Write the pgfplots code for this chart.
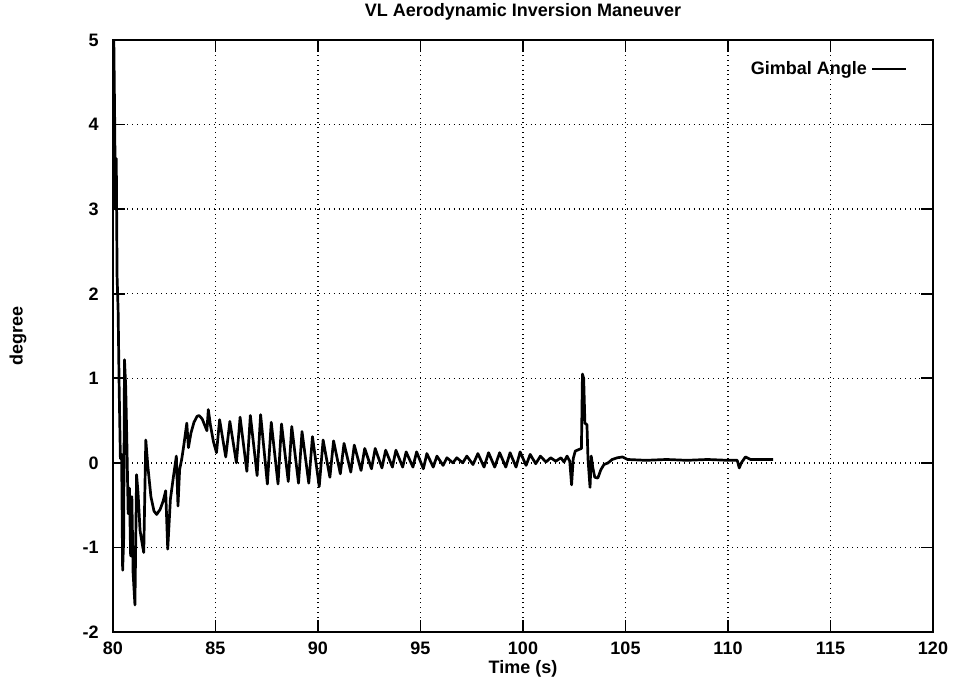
\documentclass[border=0pt]{standalone}
\usepackage{fontspec}
\setmainfont{Liberation Sans}
\usepackage{pgfplots}
\pgfplotsset{compat=1.18}
\begin{document}
\fontsize{9}{11}\selectfont\bfseries
\begin{tikzpicture}
\useasboundingbox (0,0) rectangle (476.5pt,340.5pt);
\begin{axis}[
  at={(56.5pt,24.5pt)}, anchor=south west,
  scale only axis, width=410pt, height=296pt,
  xmin=80, xmax=120, ymin=-2, ymax=5,
  xtick={80,85,...,120}, ytick={-2,-1,...,5},
  /pgf/number format/assume math mode=true,
  grid=major,
  major grid style={dotted, black, line width=0.7pt},
  tick align=inside, major tick length=6pt,
  tick style={black, line width=0.9pt},
  axis line style={line width=1.3pt},
  every axis title shift=0pt,
  xticklabel style={yshift=-2pt, font=\bfseries},
  yticklabel style={xshift=-4pt, font=\bfseries},
  title={VL Aerodynamic Inversion Maneuver},
  title style={at={(axis description cs:0.5,1.0473)}, anchor=center, font=\bfseries},
  xlabel={Time (s)},
  xlabel style={at={(axis description cs:0.5,-0.0625)}, anchor=center, font=\bfseries},
  ylabel={degree},
  ylabel style={at={(axis description cs:-0.1159,0.5)}, anchor=center, font=\bfseries},
  legend style={at={(axis description cs:0.972,0.975)}, anchor=north east,
    draw=none, fill=none, inner sep=1pt, font=\bfseries},
  legend cell align=right, legend plot pos=right,
]
\addplot[black, line width=1.35pt, line join=round, no markers] coordinates {
(80.00,4.95) (80.04,5.00) (80.08,4.1) (80.12,3.0) (80.16,3.6) (80.20,2.2)
(80.25,1.8) (80.30,0.9) (80.36,0.05) (80.42,0.1) (80.47,-1.27) (80.52,-0.9)
(80.56,1.22) (80.62,0.9) (80.68,0.2) (80.74,-0.6) (80.80,-0.3) (80.86,-1.1)
(80.92,-0.4) (80.98,-1.3) (81.07,-1.68) (81.15,-0.14) (81.22,-0.35) (81.32,-0.8)
(81.42,-0.95) (81.50,-1.06) (81.60,0.27) (81.70,-0.04) (81.85,-0.40) (82.00,-0.57)
(82.13,-0.61) (82.30,-0.55) (82.45,-0.45) (82.57,-0.33) (82.67,-1.02) (82.80,-0.43)
(82.95,-0.16) (83.09,0.08) (83.17,-0.51) (83.25,-0.08) (83.35,0.04) (83.45,0.20)
(83.60,0.47) (83.68,0.18) (83.80,0.35) (83.95,0.48) (84.10,0.55) (84.20,0.56)
(84.35,0.52) (84.50,0.43) (84.58,0.38) (84.65,0.63) (84.75,0.45) (84.90,0.25)
(85.05,0.12)
(85.20,0.51) (85.50,0.07)
(85.70,0.49) (86.02,0.00)
(86.20,0.54) (86.53,-0.10)
(86.70,0.56) (87.03,-0.15)
(87.20,0.57) (87.53,-0.25)
(87.72,0.48) (88.05,-0.25)
(88.22,0.46) (88.55,-0.22)
(88.72,0.43) (89.05,-0.24)
(89.22,0.37) (89.55,-0.24)
(89.73,0.31) (90.06,-0.28)
(90.25,0.27) (90.58,-0.17)
(90.76,0.26) (91.09,-0.13)
(91.27,0.23) (91.60,-0.11)
(91.77,0.21) (92.10,-0.09)
(92.28,0.17) (92.61,-0.07)
(92.79,0.17) (93.12,-0.06)
(93.30,0.15) (93.63,-0.05)
(93.80,0.15) (94.13,-0.05)
(94.30,0.13) (94.63,-0.05)
(94.81,0.13) (95.14,-0.07)
(95.31,0.11) (95.62,-0.05)
(95.80,0.08) (96.10,-0.03)
(96.29,0.06) (96.58,0.00)
(96.77,0.06) (97.06,0.00)
(97.26,0.08) (97.56,-0.02)
(97.80,0.11) (98.10,-0.05)
(98.32,0.12) (98.62,-0.05)
(98.86,0.12) (99.16,-0.05)
(99.37,0.12) (99.66,-0.05)
(99.86,0.13) (100.15,-0.03)
(100.35,0.10) (100.62,-0.01)
(100.85,0.08) (101.12,0.01)
(101.35,0.06) (101.60,0.02)
(101.85,0.06) (102.00,0.01) (102.15,0.08) (102.28,0.02) (102.37,-0.26)
(102.45,0.05) (102.55,0.14) (102.75,0.16) (102.85,0.17) (102.90,1.05)
(102.96,1.00) (103.02,0.47) (103.12,0.45) (103.17,0.05) (103.27,-0.29)
(103.33,0.08) (103.40,-0.05) (103.50,-0.17) (103.65,-0.18) (103.80,-0.08)
(103.95,-0.02) (104.15,0.00) (104.35,0.04) (104.60,0.06) (104.85,0.07)
(105.10,0.04) (106.00,0.03) (107.00,0.04) (108.00,0.03) (109.00,0.04)
(110.00,0.03) (110.45,0.03) (110.55,-0.06) (110.65,0.00) (110.85,0.07)
(111.10,0.04) (112.20,0.04)
};
\addlegendentry{Gimbal Angle}
\end{axis}
\end{tikzpicture}
\end{document}
